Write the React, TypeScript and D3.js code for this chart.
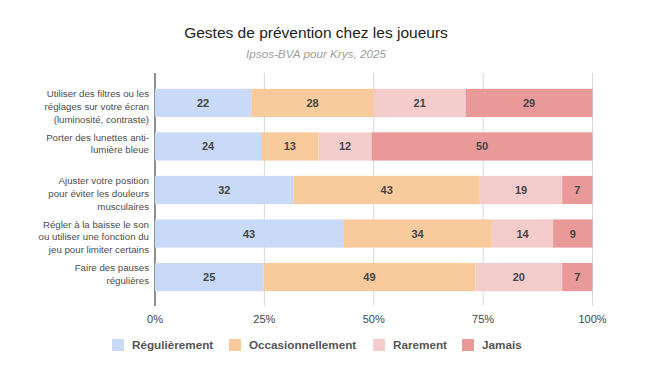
import * as d3 from 'd3';
import React from 'react';

const categories = [
  ['Utiliser des filtres ou les', 'réglages sur votre écran', '(luminosité, contraste)'],
  ['Porter des lunettes anti-', 'lumière bleue'],
  ['Ajuster votre position', 'pour éviter les douleurs', 'musculaires'],
  ['Régler à la baisse le son', 'ou utiliser une fonction du', 'jeu pour limiter certains'],
  ['Faire des pauses', 'régulières'],
];
const series = ['Régulièrement', 'Occasionnellement', 'Rarement', 'Jamais'];
const regulierement = [22, 24, 32, 43, 25];
const occasionnellement = [28, 13, 43, 34, 49];
const rarement = [21, 12, 19, 14, 20];
const jamais = [29, 50, 7, 9, 7];
const ticks = [0, 25, 50, 75, 100];
const colors = ['#c9daf8', '#f9cb9c', '#f4cccc', '#ea9999'];

const font = '"Liberation Sans", Arial, sans-serif';

export default function App() {
  const width = 650;
  const height = 385;
  const values = [regulierement, occasionnellement, rarement, jamais];

  const x = d3.scaleLinear().domain([0, 100]).range([155, 592.5]);
  const y = d3.scaleBand<number>()
    .domain(d3.range(categories.length))
    .range([74, 306])
    .paddingInner(0.352)
    .paddingOuter(0.34);

  // percent stacking: each row is scaled to its own total
  const rows = categories.map((_, i) => {
    const total = d3.sum(values, v => v[i]);
    let acc = 0;
    return values.map((vals, s) => {
      const v = vals[i];
      const seg = { s, v, x0: (acc / total) * 100, x1: ((acc + v) / total) * 100 };
      acc += v;
      return seg;
    });
  });

  const legendX = [112, 229, 373, 462];

  return (
    <svg width={width} height={height} style={{ position: 'absolute', left: 0, top: 0, fontFamily: font }}>
      <rect width={width} height={height} fill="#fff" />
      <text x={316} y={38} textAnchor="middle" fontSize={15.5} fill="#222">
        Gestes de prévention chez les joueurs
      </text>
      <text x={316} y={58} textAnchor="middle" fontSize={11.7} fontStyle="italic" fill="#9e9e9e">
        Ipsos-BVA pour Krys, 2025
      </text>

      {ticks.map(t => (
        <g key={t}>
          <line x1={x(t)} x2={x(t)} y1={73} y2={306} stroke="#d9d9d9" strokeWidth={1} />
          <text x={x(t)} y={323} textAnchor="middle" fontSize={11} fill="#444">{t}%</text>
        </g>
      ))}
      <line x1={155} x2={155} y1={73} y2={306} stroke="#333" strokeWidth={1} />

      {rows.map((segs, i) => (
        <g key={i}>
          {segs.map(seg => (
            <g key={seg.s}>
              <rect
                x={x(seg.x0)}
                y={y(i)!}
                width={x(seg.x1) - x(seg.x0)}
                height={y.bandwidth()}
                fill={colors[seg.s]}
              />
              <text
                x={(x(seg.x0) + x(seg.x1)) / 2}
                y={y(i)! + y.bandwidth() / 2 + 4}
                textAnchor="middle"
                fontSize={11}
                fontWeight="bold"
                fill="#444"
              >
                {seg.v}
              </text>
            </g>
          ))}
          {categories[i].map((line, j) => (
            <text
              key={j}
              x={149}
              y={y(i)! + y.bandwidth() / 2 - 5.8 + j * 12.7}
              textAnchor="end"
              fontSize={9.7}
              fill="#4d4d4d"
            >
              {line}
            </text>
          ))}
        </g>
      ))}

      {series.map((name, s) => (
        <g key={name}>
          <rect x={legendX[s]} y={339} width={12} height={12} fill={colors[s]} />
          <text x={legendX[s] + 20} y={349} fontSize={11.7} fontWeight="bold" fill="#555">{name}</text>
        </g>
      ))}
    </svg>
  );
}
